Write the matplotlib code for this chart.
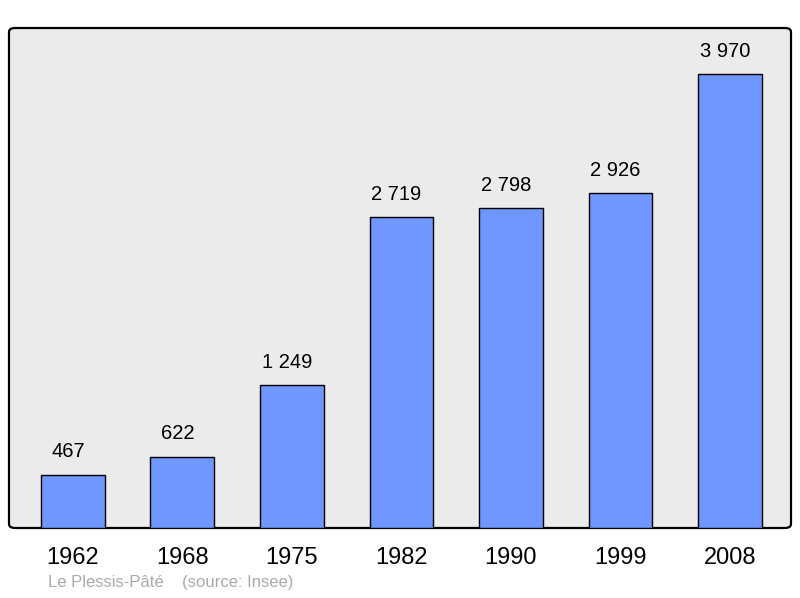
import matplotlib
matplotlib.use('Agg')
from matplotlib import pyplot as plt
from matplotlib.patches import FancyBboxPatch

years = ['1962', '1968', '1975', '1982', '1990', '1999', '2008']
population = [467, 622, 1249, 2719, 2798, 2926, 3970]
value_labels = ['467', '622', '1 249', '2 719', '2 798', '2 926', '3 970']
footer = 'Le Plessis-Pâté    (source: Insee)'

plt.rcParams['font.family'] = ['Liberation Sans', 'DejaVu Sans']

fig = plt.figure(figsize=(8, 5.98), dpi=100)
ax = fig.add_axes([9 / 800, 70 / 598, 782 / 800, 500 / 598])
ax.set_facecolor('none')

# rounded background frame
frame = FancyBboxPatch((0, 0), 1, 1, boxstyle='round,pad=0,rounding_size=0.008',
                       transform=ax.transAxes, facecolor='#ebebeb',
                       edgecolor='black', linewidth=1.6, zorder=0,
                       clip_on=False)
ax.add_patch(frame)

x = list(range(len(years)))
ax.bar(x, population, width=0.584, color='#7097ff', edgecolor='black',
       linewidth=1.0, zorder=2)
# labels sit a little left of the bar centre, as in the original
for xi, val, lab in zip(x, population, value_labels):
    ax.annotate(lab, (xi, val), xytext=(-3.5, 16.5), textcoords='offset points',
                ha='center', va='center', fontsize=14.5, color='black')

ax.set_xlim(-0.584, 6.557)
ax.set_ylim(0, 4372)
for s in ax.spines.values():
    s.set_visible(False)
ax.set_yticks([])
ax.set_xticks(x)
ax.set_xticklabels(years, fontsize=17)
ax.tick_params(axis='x', length=0, pad=13.5)

fig.text(48 / 800, 1 - 583 / 598, footer, fontsize=12, color='#aaaaaa',
         ha='left', va='center')

fig.savefig('out.png', dpi=100)
